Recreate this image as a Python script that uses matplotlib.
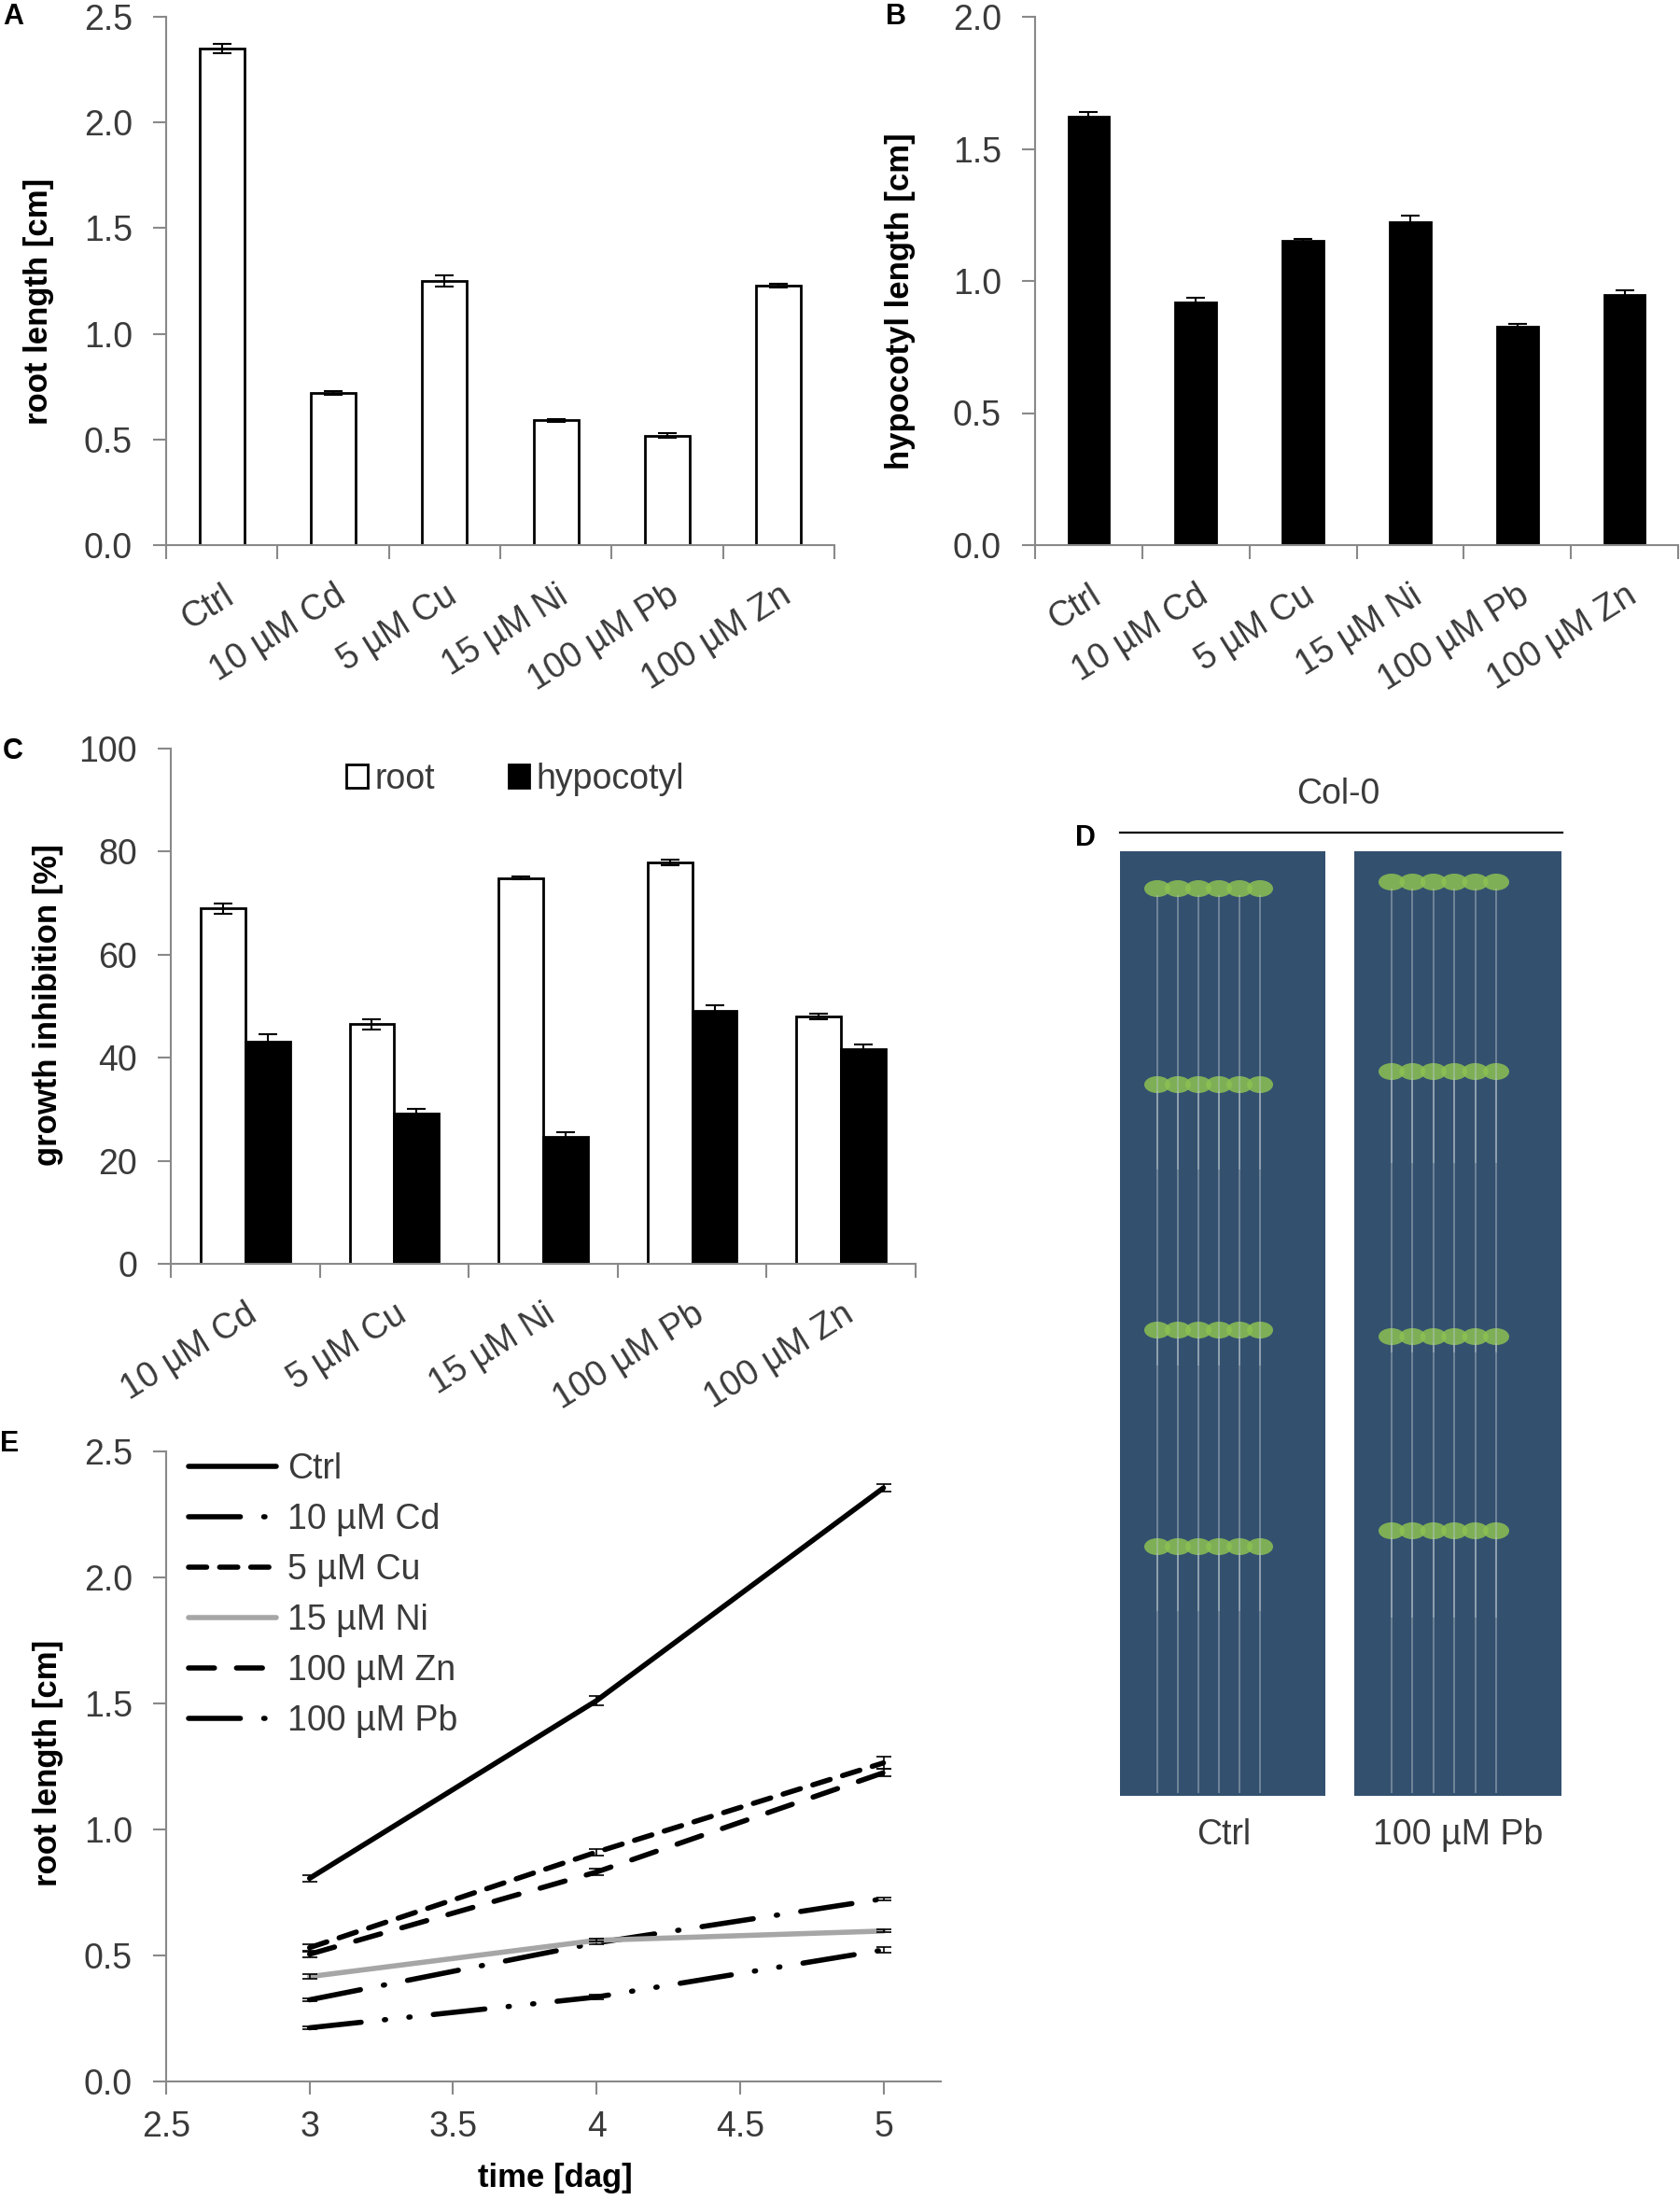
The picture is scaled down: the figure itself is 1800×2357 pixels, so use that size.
import matplotlib
matplotlib.use('Agg')
import matplotlib.pyplot as plt
import numpy as np
from matplotlib.patches import Rectangle, Patch, Ellipse
from matplotlib.ticker import FuncFormatter

FONT = ['Liberation Sans', 'DejaVu Sans']
plt.rcParams['font.family'] = FONT
plt.rcParams['lines.scale_dashes'] = False

# ---------------- data ----------------
cats_ab = ['Ctrl', '10 µM Cd', '5 µM Cu', '15 µM Ni', '100 µM Pb', '100 µM Zn']
root_len = [2.35, 0.72, 1.25, 0.59, 0.518, 1.227]
root_err = [0.024, 0.01, 0.025, 0.007, 0.01, 0.01]
hyp_len = [1.621, 0.917, 1.151, 1.221, 0.828, 0.946]
hyp_err = [0.019, 0.019, 0.008, 0.025, 0.008, 0.017]

cats_c = ['10 µM Cd', '5 µM Cu', '15 µM Ni', '100 µM Pb', '100 µM Zn']
inh_root = [69.0, 46.5, 74.9, 77.9, 48.0]
inh_root_err = [1.0, 1.0, 0.3, 0.5, 0.5]
inh_hyp = [43.2, 29.1, 24.7, 49.1, 41.6]
inh_hyp_err = [1.4, 1.0, 0.9, 1.0, 1.0]

days = [3, 4, 5]
e_names = ['Ctrl', '10 µM Cd', '5 µM Cu', '15 µM Ni', '100 µM Zn', '100 µM Pb']
e_ctrl = [0.806, 1.511, 2.355]
e_ctrl_err = [0.012, 0.02, 0.015]
e_cd = [0.324, 0.55, 0.725]
e_cd_err = [0.005, 0.005, 0.005]
e_cu = [0.531, 0.91, 1.264]
e_cu_err = [0.015, 0.012, 0.025]
e_ni = [0.416, 0.56, 0.597]
e_ni_err = [0.01, 0.005, 0.005]
e_zn = [0.505, 0.831, 1.225]
e_zn_err = [0.012, 0.012, 0.015]
e_pb = [0.213, 0.335, 0.522]
e_pb_err = [0.005, 0.008, 0.01]

W, H = 1800, 2357
fig = plt.figure(figsize=(W / 100, H / 100), dpi=100)

GRAY = '#898989'
TXT = '#3a3a3a'
FS = 27
LFS = 25


def px_axes(left, right, top, bottom):
    return fig.add_axes([left / W, 1 - bottom / H, (right - left) / W, (bottom - top) / H])


def style(ax):
    for s in ['top', 'right']:
        ax.spines[s].set_visible(False)
    for s in ['left', 'bottom']:
        ax.spines[s].set_color(GRAY)
        ax.spines[s].set_linewidth(1.5)
    ax.tick_params(which='major', color=GRAY, width=1.5, length=10,
                   labelsize=FS, labelcolor=TXT, direction='out')
    ax.tick_params(axis='y', pad=16)


def cat_axis(ax, cats):
    n = len(cats)
    ax.set_xlim(-0.5, n - 0.5)
    ax.set_xticks(np.arange(-0.5, n, 1.0))
    ax.set_xticklabels([])
    ax.tick_params(axis='x', which='major', length=11)
    ax.set_xticks(np.arange(n), minor=True)
    ax.set_xticklabels(cats, minor=True, rotation=32, ha='right', va='top',
                       rotation_mode='anchor')
    ax.tick_params(axis='x', which='minor', length=0, pad=26, labelsize=FS,
                   labelcolor=TXT)


def ylab(ax, text, xfrac, yfrac):
    ax.set_ylabel(text, fontsize=LFS, fontweight='bold', color='black')
    ax.yaxis.label.set_va('center')
    ax.yaxis.set_label_coords(xfrac, yfrac)


ekw = dict(fmt='none', ecolor='black', elinewidth=1.5, capsize=7, capthick=1.5)

# ---------------- A ----------------
axA = px_axes(178, 894, 18, 584)
style(axA)
xa = np.arange(len(cats_ab))
axA.bar(xa, root_len, width=0.4, color='white', edgecolor='black', linewidth=2)
axA.errorbar(xa, root_len, yerr=root_err, **ekw)
axA.set_ylim(0, 2.5)
axA.set_yticks(np.arange(0, 2.51, 0.5))
axA.yaxis.set_major_formatter(FuncFormatter(lambda v, p: f'{v:.1f}'))
cat_axis(axA, cats_ab)
ylab(axA, 'root length [cm]', -0.19, 0.461)

# ---------------- B ----------------
axB = px_axes(1109, 1798, 18, 584)
style(axB)
axB.bar(xa, hyp_len, width=0.38, color='black', edgecolor='black', linewidth=2)
axB.errorbar(xa, hyp_len, yerr=hyp_err, **ekw)
axB.set_ylim(0, 2.0)
axB.set_yticks(np.arange(0, 2.01, 0.5))
axB.yaxis.set_major_formatter(FuncFormatter(lambda v, p: f'{v:.1f}'))
cat_axis(axB, cats_ab)
ylab(axB, 'hypocotyl length [cm]', -0.21, 0.461)

# ---------------- C ----------------
axC = px_axes(183, 981, 802, 1354)
style(axC)
xc = np.arange(len(cats_c))
axC.bar(xc - 0.15, inh_root, width=0.3, color='white', edgecolor='black', linewidth=2)
axC.errorbar(xc - 0.15, inh_root, yerr=inh_root_err, **ekw)
axC.bar(xc + 0.15, inh_hyp, width=0.3, color='black', edgecolor='black', linewidth=2)
axC.errorbar(xc + 0.15, inh_hyp, yerr=inh_hyp_err, **ekw)
axC.set_ylim(0, 100)
axC.set_yticks(np.arange(0, 101, 20))
cat_axis(axC, cats_c)
ylab(axC, 'growth inhibition [%]', -0.165, 0.502)
axC.legend(handles=[Patch(facecolor='white', edgecolor='black', linewidth=2, label='root'),
                    Patch(facecolor='black', edgecolor='black', linewidth=2, label='hypocotyl')],
           loc='center left', bbox_to_anchor=(0.236, 0.94), ncol=2, frameon=False,
           fontsize=FS, handlelength=0.6, handleheight=0.65, handletextpad=0.2,
           columnspacing=2.1, borderpad=0, borderaxespad=0, labelcolor=TXT)

# ---------------- E ----------------
axE = px_axes(178, 1008, 1555, 2230)
style(axE)
styles = {
    'Ctrl': dict(color='black', ls='-'),
    '10 µM Cd': dict(color='black', ls=(0, (40, 18, 1, 18))),
    '5 µM Cu': dict(color='black', ls=(0, (14, 10))),
    '15 µM Ni': dict(color='#a6a6a6', ls='-'),
    '100 µM Zn': dict(color='black', ls=(0, (20, 17))),
    '100 µM Pb': dict(color='black', ls=(0, (40, 18, 1, 18, 1, 18))),
}
series = {
    'Ctrl': (e_ctrl, e_ctrl_err),
    '10 µM Cd': (e_cd, e_cd_err),
    '5 µM Cu': (e_cu, e_cu_err),
    '15 µM Ni': (e_ni, e_ni_err),
    '100 µM Zn': (e_zn, e_zn_err),
    '100 µM Pb': (e_pb, e_pb_err),
}
handles = []
for name in e_names:
    vals, errs = series[name]
    st = styles[name]
    ln, = axE.plot(days, vals, color=st['color'], linestyle=st['ls'], linewidth=4,
                   dash_capstyle='round', solid_capstyle='round', label=name)
    axE.errorbar(days, vals, yerr=errs, fmt='none', ecolor='black', elinewidth=1.2,
                 capsize=6, capthick=1.2)
    handles.append(ln)
axE.set_xlim(2.5, 5.2)
axE.set_ylim(0, 2.5)
axE.set_xticks(np.arange(2.5, 5.01, 0.5))
axE.xaxis.set_major_formatter(FuncFormatter(lambda v, p: f'{v:g}'))
axE.set_yticks(np.arange(0, 2.51, 0.5))
axE.yaxis.set_major_formatter(FuncFormatter(lambda v, p: f'{v:.1f}'))
axE.tick_params(axis='x', pad=12)
ylab(axE, 'root length [cm]', -0.152, 0.505)
axE.set_xlabel('time [dag]', fontsize=LFS, fontweight='bold', color='black')
axE.xaxis.label.set_va('center')
axE.xaxis.set_label_coords(0.502, -0.154)
axE.legend(handles=handles, loc='upper left', bbox_to_anchor=(0.029, 0.998),
           frameon=False, fontsize=FS, handlelength=2.5, handletextpad=0.32,
           labelspacing=0.48, borderpad=0, borderaxespad=0, labelcolor=TXT)

# ---------------- D (photo placeholder) ----------------
axD = fig.add_axes([0, 0, 1, 1], zorder=-1)
axD.set_xlim(0, W)
axD.set_ylim(H, 0)
axD.axis('off')
photo_color = '#34506f'
root_color = '#b9c6cc'
leaf_color = '#8cc152'
plates = [(1200, 1420, [952, 1162, 1425, 1657]), (1451, 1673, [945, 1148, 1432, 1640])]
for (l, r, rows) in plates:
    axD.add_patch(Rectangle((l, 912), r - l, 1924 - 912, facecolor=photo_color,
                            edgecolor='none'))
    for k, yr in enumerate(rows):
        xs = np.linspace(l + 40, r - 70, 6)
        for xs_ in xs:
            axD.plot([xs_, xs_], [yr + 8, min(yr + 300, 1920)],
                     color=root_color, linewidth=1.4, alpha=0.45)
        for xs_ in xs:
            axD.add_patch(Ellipse((xs_, yr), 28, 18, facecolor=leaf_color,
                                  edgecolor='none', alpha=0.85))
axD.plot([1200, 1674], [892, 892], color='black', linewidth=1.6)
axD.text(1434, 851, 'Col-0', fontsize=FS, color=TXT, ha='center', va='center')
axD.text(1311, 1966, 'Ctrl', fontsize=FS, color=TXT, ha='center', va='center')
axD.text(1562, 1966, '100 µM Pb', fontsize=FS, color=TXT, ha='center', va='center')

# ---------------- panel letters ----------------
for lab, x, y in [('A', 3, 18), ('B', 949, 18), ('C', 3, 805), ('D', 1152, 898), ('E', 0, 1547)]:
    fig.text(x / W, 1 - y / H, lab, fontsize=22, fontweight='bold', ha='left', va='center')

fig.savefig('out.png', dpi=100)
